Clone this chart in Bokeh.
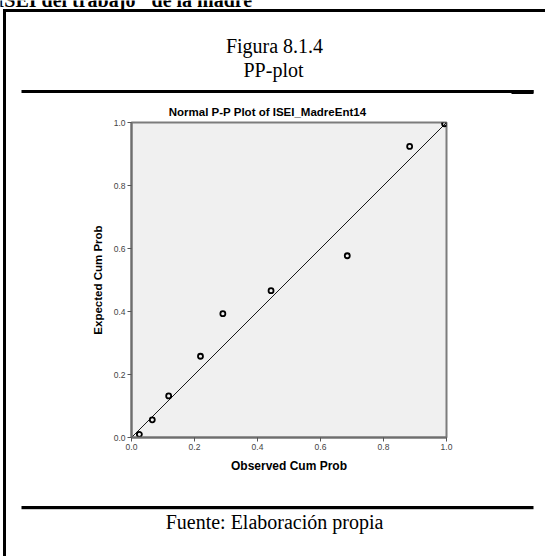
from bokeh.plotting import figure
from bokeh.layouts import column, row
from bokeh.models import Range1d, FixedTicker, PrintfTickFormatter, Spacer
from bokeh.core.properties import value
from bokeh.embed import file_html
from bokeh.resources import INLINE

# Normal P-P plot data: observed vs expected cumulative probability
observed = [0.025, 0.066, 0.118, 0.219, 0.290, 0.443, 0.685, 0.883, 0.994]
expected = [0.010, 0.056, 0.132, 0.258, 0.393, 0.466, 0.577, 0.924, 0.996]
ref_x = [0.0, 1.0]
ref_y = [0.0, 1.0]
ticks = [0.0, 0.2, 0.4, 0.6, 0.8, 1.0]

SANS = "Liberation Sans"
SERIF = "Liberation Serif"
W, H = 545, 556
TOP_H, MID_H = 118, 358
BOT_H = H - TOP_H - MID_H
LEFT_W = 21


def sheet(width, height, y0, y1):
    """Transparent drawing surface in page pixels (y grows downward)."""
    f = figure(width=width, height=height, output_backend="svg",
               toolbar_location=None, x_axis_location=None, y_axis_location=None,
               x_range=Range1d(0, width), y_range=Range1d(y1, y0),
               min_border=0, outline_line_color=None, frame_align=False,
               background_fill_color=None, border_fill_color=None)
    f.grid.visible = False
    return f


def bar(f, left, right, top, bottom, color="black"):
    f.quad(left=[left], right=[right], top=[top], bottom=[bottom],
           fill_color=color, line_color=None)


def write(f, x, y, s, font, size, style="normal", align="center"):
    f.text(x=[x], y=[y], text=[s], text_font=value(font), text_font_size=value(size),
           text_font_style=style, text_align=align, text_baseline="middle",
           text_color="black")


# ---- header: page heading, box frame top edge, figure caption, plot title
top = sheet(W, TOP_H, 0, TOP_H)
write(top, -4, -1, "ISEI del trabajo\" de la madre", SERIF, "20px", "bold", "left")
bar(top, 3, W, 8.5, 11.5)
write(top, 274, 45, "Figura 8.1.4", SERIF, "20px")
write(top, 273, 69, "PP-plot", SERIF, "20px")
bar(top, 21, 533, 89.5, 92.5)
bar(top, 511, 533, 89.5, 93.5)
write(top, 267, 111, "Normal P-P Plot of ISEI_MadreEnt14", SANS, "11.5px", "bold")

# ---- the P-P plot itself
pp = figure(width=W - LEFT_W, height=MID_H, output_backend="svg",
            toolbar_location=None, x_range=Range1d(0, 1), y_range=Range1d(0, 1),
            min_border_left=110, min_border_right=99,
            min_border_top=4, min_border_bottom=39, frame_align=False)
pp.background_fill_color = "#f0f0f0"
pp.border_fill_color = "white"
pp.outline_line_color = "#7c7c7c"
pp.outline_line_width = 2
pp.xgrid.visible = False
pp.ygrid.visible = False

for ax in (pp.xaxis[0], pp.yaxis[0]):
    ax.ticker = FixedTicker(ticks=ticks)
    ax.formatter = PrintfTickFormatter(format="%.1f")
    ax.axis_line_color = "#6e6e6e"
    ax.axis_line_width = 2
    ax.major_tick_line_color = "#555555"
    ax.major_tick_in = 0
    ax.major_tick_out = 4
    ax.minor_tick_line_color = None
    ax.major_label_text_font = SANS
    ax.major_label_text_font_size = "8.5px"
    ax.major_label_text_color = "#444444"
    ax.major_label_standoff = 2
    ax.axis_label_text_font = SANS
    ax.axis_label_text_font_style = "bold"
    ax.axis_label_text_color = "black"

pp.xaxis[0].axis_label = "Observed Cum Prob"
pp.xaxis[0].axis_label_text_font_size = "12px"
pp.xaxis[0].axis_label_standoff = 6
pp.yaxis[0].axis_label = "Expected Cum Prob"
pp.yaxis[0].axis_label_text_font_size = "11.5px"
pp.yaxis[0].axis_label_standoff = 7

pp.line(ref_x, ref_y, line_color="#1a1a1a", line_width=1)
pp.scatter(observed, expected, marker="circle", size=5, line_color="black",
           line_width=1.8, fill_alpha=0)

# ---- footer: source note and bottom rule
bot = sheet(W, BOT_H, H - BOT_H, H)
bar(bot, 21, 533, 505.5, 508.5)
bar(bot, 21, 533, 508.5, 509.5, "#cccccc")
write(bot, 274, 521, "Fuente: Elaboración propia", SERIF, "20px")

# the box's left edge runs down the whole page as a CSS background stripe
p = column(top, row(Spacer(width=LEFT_W, height=MID_H, margin=0), pp, spacing=0),
           bot, spacing=0, width=W, height=H,
           styles={"background": "linear-gradient(black, black) 3px 9px / 3px "
                                 "calc(100% - 9px) no-repeat, white"})
open("out.html", "w").write(file_html(p, INLINE))
